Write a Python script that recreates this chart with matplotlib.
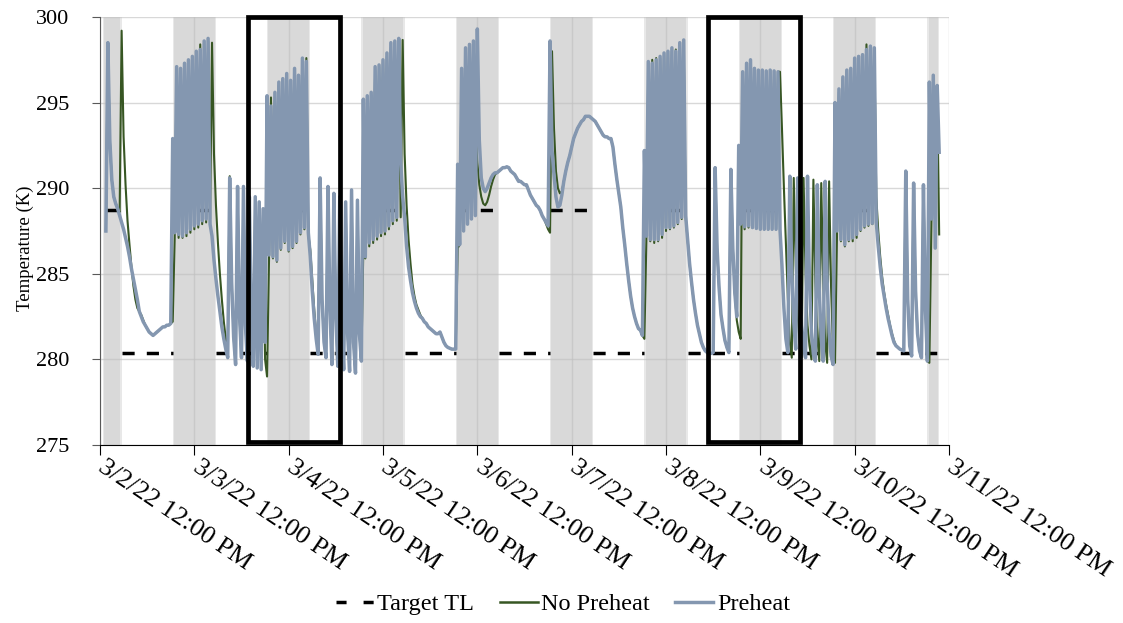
import numpy as np
import pandas as pd
import matplotlib
matplotlib.use("Agg")
import matplotlib.pyplot as plt
import matplotlib.dates as mdates
from matplotlib.lines import Line2D
from matplotlib.patches import Rectangle
from matplotlib.transforms import ScaledTranslation

plt.rcParams["font.family"] = ["Liberation Serif", "DejaVu Serif"]

nan = np.nan

# Zone temperature (K), one reading every 30 min, each list runs noon -> noon
preheat_mar02 = [nan, nan, nan, 287.5, 298.5, 292.8, 290.5, 289.5, 289.1, 288.8, 288.4, 288.0,
                 287.6, 287.1, 286.6, 286.0, 285.3, 284.7, 284.1, 283.5, 282.8, 282.5, 282.2, 282.0,
                 281.8, 281.6, 281.5, 281.4, 281.5, 281.6, 281.7, 281.8, 281.9, 281.9, 282.0, 282.0,
                 282.1, 292.9, 287.4, 297.1, 287.3, 297.0, 287.2, 297.3, 287.4, 297.5, 287.6, 297.7]
preheat_mar03 = [287.8, 298.0, 287.9, 298.1, 288.1, 298.6, 288.2, 298.75, 287.9, 287.2, 285.8, 284.7,
                 283.7, 282.8, 281.9, 281.2, 280.6, 280.1, 290.6, 284.5, 281.3, 279.7, 290.1, 282.5,
                 280.1, 290.1, 282.0, 279.9, 289.5, 282.3, 279.6, 289.5, 279.5, 289.2, 279.4, 288.8,
                 281.0, 295.4, 286.1, 294.8, 286.0, 295.6, 285.8, 296.2, 286.5, 296.4, 286.9, 296.7]
preheat_mar04 = [286.4, 296.3, 286.6, 297.0, 286.9, 296.6, 287.4, 297.6, 287.7, 297.4, 287.4, 286.0,
                 284.0, 282.4, 281.2, 280.3, 290.6, 283.5, 281.0, 280.1, 290.1, 283.0, 279.7, 289.7,
                 282.5, 279.6, 289.5, 282.0, 279.4, 289.2, 281.5, 279.3, 289.9, 281.0, 279.2, 289.3,
                 281.5, 279.9, 295.2, 286.0, 295.4, 286.8, 295.6, 287.0, 297.1, 287.2, 297.2, 287.4]
preheat_mar05 = [297.5, 287.5, 297.9, 287.8, 298.5, 288.1, 298.6, 288.3, 298.75, 291.5, 289.5, 288.3,
                 286.6, 285.4, 284.6, 283.9, 283.4, 283.0, 282.7, 282.5, 282.4, 282.2, 282.1, 281.9,
                 281.8, 281.7, 281.6, 281.5, 281.5, 281.6, 281.3, 281.0, 280.8, 280.7, 280.65, 280.6,
                 280.6, 280.6, 291.4, 286.7, 297.0, 287.5, 298.2, 287.9, 298.4, 288.2, 298.6, 288.4]
preheat_mar06 = [299.3, 292.8, 290.6, 290.0, 289.8, 290.0, 290.3, 290.6, 290.8, 290.9, 290.9, 291.0,
                 291.1, 291.2, 291.2, 291.25, 291.2, 291.0, 290.9, 290.8, 290.6, 290.4, 290.4, 290.3,
                 290.2, 290.2, 289.9, 289.6, 289.4, 289.2, 289.0, 288.9, 288.7, 288.4, 288.2, 288.0,
                 287.8, 298.6, 292.2, 290.8, 289.5, 288.9, 289.0, 289.6, 290.4, 291.0, 291.5, 291.9]
preheat_mar07 = [292.4, 292.9, 293.2, 293.5, 293.7, 293.9, 294.0, 294.2, 294.2, 294.2, 294.1, 294.0,
                 293.9, 293.7, 293.5, 293.3, 293.1, 293.0, 293.0, 292.9, 292.9, 292.4, 291.4, 290.5,
                 289.7, 288.9, 287.7, 286.7, 285.6, 284.6, 283.7, 283.0, 282.5, 282.1, 281.8, 281.7,
                 281.4, 292.2, 287.2, 297.4, 287.0, 297.3, 287.0, 297.5, 287.0, 297.7, 287.3, 297.9]
preheat_mar08 = [287.7, 298.0, 287.7, 298.2, 287.8, 298.0, 288.0, 298.5, 288.3, 298.66, 288.4, 287.0,
                 285.6, 284.5, 283.5, 282.7, 282.0, 281.5, 281.0, 280.7, 280.5, 280.4, 280.35, 280.35,
                 280.4, 291.2, 286.5, 284.2, 282.6, 281.8, 281.1, 280.7, 280.4, 291.1, 286.5, 283.9,
                 282.5, 292.5, 287.9, 296.8, 287.75, 297.3, 287.8, 297.5, 287.7, 297.0, 287.65, 296.9]
preheat_mar09 = [287.6, 296.9, 287.6, 296.85, 287.6, 296.9, 287.6, 296.85, 287.6, 296.8, 287.6, 285.5,
                 283.0, 281.2, 280.4, 290.7, 285.0, 282.2, 280.6, 290.6, 284.8, 282.0, 280.8, 280.1,
                 290.7, 284.5, 281.6, 280.3, 279.9, 290.2, 284.0, 281.2, 279.9, 290.4, 284.6, 281.6,
                 280.2, 279.7, 295.0, 287.5, 295.8, 287.0, 296.5, 286.7, 296.9, 287.0, 297.0, 287.1]
preheat_mar10 = [297.6, 287.3, 297.7, 287.6, 297.8, 287.8, 298.1, 287.9, 298.3, 287.95, 298.2, 288.0,
                 286.6, 285.4, 284.4, 283.7, 283.0, 282.4, 281.9, 281.4, 281.0, 280.8, 280.7, 280.6,
                 280.55, 280.5, 291.0, 283.5, 280.8, 280.2, 290.3, 284.0, 281.5, 280.5, 280.1, 290.2,
                 283.0, 279.9, 296.2, 288.2, 296.6, 286.5, 296.0, 292.1]

no_preheat_mar02 = [nan, nan, nan, 287.5, 298.5, 292.8, 290.5, 289.5, 289.1, 288.8, 288.6, 299.2,
                    293.0, 290.2, 288.1, 286.7, 285.4, 284.3, 283.5, 283.0, 282.8, 282.6, 282.3, 282.0,
                    281.8, 281.6, 281.5, 281.4, 281.5, 281.6, 281.7, 281.8, 281.9, 281.9, 282.0, 282.0,
                    282.1, 282.2, 287.1, 297.0, 287.1, 296.9, 287.1, 297.2, 287.2, 297.4, 287.4, 297.6]
no_preheat_mar03 = [287.6, 297.9, 287.7, 298.4, 287.9, 298.2, 288.0, 298.6, 288.2, 298.5, 292.0, 289.0,
                    286.8, 285.0, 283.5, 282.2, 281.2, 280.5, 290.7, 284.5, 281.3, 279.7, 290.1, 282.5,
                    280.1, 290.1, 282.0, 279.9, 289.5, 282.3, 279.6, 289.5, 279.5, 289.2, 279.4, 288.8,
                    280.0, 279.0, 285.8, 295.3, 285.9, 294.7, 285.7, 296.0, 286.4, 296.3, 286.8, 296.6]
no_preheat_mar04 = [286.3, 296.2, 286.5, 296.9, 286.8, 296.5, 287.3, 297.5, 287.6, 297.6, 287.3, 286.4,
                    284.6, 282.9, 281.5, 280.4, 290.6, 283.5, 281.0, 280.1, 290.1, 283.0, 279.7, 289.7,
                    282.5, 279.6, 289.5, 282.0, 279.4, 289.2, 281.5, 279.3, 289.9, 281.0, 279.2, 289.3,
                    281.5, 279.9, 286.6, 285.9, 295.2, 286.6, 295.4, 286.8, 296.9, 287.0, 297.1, 287.2]
no_preheat_mar05 = [297.4, 287.3, 297.7, 287.6, 298.2, 287.9, 298.5, 288.1, 298.6, 288.3, 298.66, 292.0,
                    289.0, 287.0, 285.6, 284.4, 283.7, 283.2, 282.9, 282.6, 282.4, 282.2, 282.1, 281.9,
                    281.8, 281.7, 281.6, 281.5, 281.5, 281.6, 281.3, 281.0, 280.8, 280.7, 280.65, 280.6,
                    280.6, 280.6, 286.5, 286.7, 296.8, 287.5, 298.0, 287.9, 298.4, 288.2, 298.5, 293.5]
no_preheat_mar06 = [291.5, 290.2, 289.5, 289.1, 289.0, 289.2, 289.6, 290.1, 290.5, 290.8, 290.9, 291.0,
                    291.1, 291.2, 291.2, 291.25, 291.2, 291.0, 290.9, 290.8, 290.6, 290.4, 290.4, 290.3,
                    290.2, 290.2, 289.9, 289.6, 289.4, 289.2, 289.0, 288.9, 288.7, 288.4, 288.2, 287.9,
                    287.6, 287.4, 298.0, 293.5, 291.0, 290.0, 289.7, 289.8, 290.4, 291.0, 291.5, 291.9]
no_preheat_mar07 = [292.4, 292.9, 293.2, 293.5, 293.7, 293.9, 294.0, 294.2, 294.2, 294.2, 294.1, 294.0,
                    293.9, 293.7, 293.5, 293.3, 293.1, 293.0, 293.0, 292.9, 292.9, 292.4, 291.4, 290.5,
                    289.7, 288.9, 287.7, 286.7, 285.6, 284.6, 283.7, 283.0, 282.5, 282.1, 281.8, 281.7,
                    281.4, 281.2, 286.9, 297.2, 286.9, 297.5, 286.8, 297.6, 286.9, 297.6, 287.1, 297.8]
no_preheat_mar08 = [287.5, 297.9, 287.6, 298.0, 287.7, 298.1, 287.9, 298.4, 288.2, 298.5, 288.3, 287.0,
                    285.6, 284.5, 283.5, 282.7, 282.0, 281.5, 281.0, 280.7, 280.5, 280.4, 280.35, 280.35,
                    280.4, 291.2, 286.5, 284.2, 282.6, 281.8, 281.1, 280.7, 280.4, 291.1, 286.5, 283.9,
                    282.3, 281.6, 281.2, 296.8, 287.6, 297.3, 287.7, 297.5, 287.7, 297.0, 287.65, 296.9]
no_preheat_mar09 = [287.6, 296.9, 287.6, 296.85, 287.6, 296.9, 287.6, 296.85, 287.6, 296.8, 296.8, 293.5,
                    290.0, 286.8, 283.6, 281.0, 280.1, 290.6, 285.5, 282.6, 281.0, 280.1, 290.6, 285.0,
                    282.0, 280.8, 280.0, 290.5, 284.5, 281.3, 279.9, 290.3, 284.5, 281.0, 279.8, 290.4,
                    284.2, 280.5, 279.8, 287.2, 295.6, 286.9, 296.4, 286.6, 296.8, 286.9, 297.0, 286.9]
no_preheat_mar10 = [297.5, 287.1, 297.7, 287.5, 297.8, 287.7, 298.4, 287.8, 298.2, 287.9, 298.1, 289.5,
                    287.5, 286.0, 284.8, 283.9, 283.2, 282.6, 282.0, 281.5, 281.1, 280.8, 280.7, 280.6,
                    280.55, 280.5, 291.0, 283.5, 280.8, 280.2, 290.3, 284.0, 281.5, 280.5, 280.1, 290.2,
                    283.0, 279.9, 279.8, 287.5, 296.4, 287.8, 295.7, 287.3]

# occupied hours (shaded)
occupied_start = ["2022-03-02 12:45", "2022-03-03 06:30", "2022-03-04 06:30", "2022-03-05 06:30",
                  "2022-03-06 06:30", "2022-03-07 06:30", "2022-03-08 06:30", "2022-03-09 06:30",
                  "2022-03-10 06:30", "2022-03-11 06:30"]
occupied_end = ["2022-03-02 17:30", "2022-03-03 17:30", "2022-03-04 17:30", "2022-03-05 17:30",
                "2022-03-06 17:30", "2022-03-07 17:30", "2022-03-08 17:30", "2022-03-09 17:30",
                "2022-03-10 17:30", "2022-03-11 09:30"]

# target temperature schedule
target_start = ["2022-03-02 13:30", "2022-03-02 17:30", "2022-03-03 06:30", "2022-03-03 17:30",
                "2022-03-04 06:30", "2022-03-04 17:30", "2022-03-05 06:30", "2022-03-05 17:30",
                "2022-03-06 06:30", "2022-03-06 17:30", "2022-03-07 06:30", "2022-03-07 17:30",
                "2022-03-08 06:30", "2022-03-08 17:30", "2022-03-09 06:30", "2022-03-09 17:30",
                "2022-03-10 06:30", "2022-03-10 17:30"]
target_end = target_start[1:] + ["2022-03-11 09:30"]
target_value = [288.7, 280.4] * 9

# windows boxed for closer look
highlight_start = ["2022-03-04 01:45", "2022-03-08 22:45"]
highlight_end = ["2022-03-05 01:00", "2022-03-09 22:00"]

preheat = np.concatenate([preheat_mar02, preheat_mar03, preheat_mar04, preheat_mar05, preheat_mar06,
                          preheat_mar07, preheat_mar08, preheat_mar09, preheat_mar10])
no_preheat = np.concatenate([no_preheat_mar02, no_preheat_mar03, no_preheat_mar04, no_preheat_mar05,
                             no_preheat_mar06, no_preheat_mar07, no_preheat_mar08, no_preheat_mar09,
                             no_preheat_mar10])
times = pd.date_range("2022-03-02 12:00", periods=len(preheat), freq="30min")
tick_days = pd.date_range("2022-03-02 12:00", "2022-03-11 12:00", freq="D")

green = "#375623"
blue = "#8497b0"

fig = plt.figure(figsize=(11.23, 6.23), dpi=100)
ax = fig.add_axes([100 / 1123, 178 / 623, 849 / 1123, 428 / 623])

edge = pd.Timedelta(minutes=20)
for s, e in zip(occupied_start, occupied_end):
    s, e = pd.Timestamp(s), pd.Timestamp(e)
    ax.axvspan(s, e, color="#e8e8e8", lw=0, zorder=0)
    ax.axvspan(s + edge, e - edge, color="#d9d9d9", lw=0, zorder=0)

for s, e, v in zip(target_start, target_end, target_value):
    ax.plot([pd.Timestamp(s), pd.Timestamp(e)], [v, v], color="black", lw=2.5,
            dashes=(3.5, 3.5), zorder=2)

ax.plot(times, no_preheat, color=green, lw=1.5, zorder=3)
ax.plot(times, preheat, color=blue, lw=2.5, zorder=4)

for s, e in zip(highlight_start, highlight_end):
    x0 = mdates.date2num(pd.Timestamp(s))
    x1 = mdates.date2num(pd.Timestamp(e))
    ax.add_patch(Rectangle((x0, 275.15), x1 - x0, 300.0 - 275.15, fill=False,
                           ec="black", lw=3.4, zorder=5, clip_on=False))

ax.set_xlim(tick_days[0], tick_days[-1])
ax.set_ylim(275, 300)
ax.set_yticks(range(275, 301, 5))
ax.set_xticks(tick_days)
ax.set_xticklabels([f"{d.month}/{d.day}/{d:%y} {d:%I:%M %p}" for d in tick_days])
ax.grid(True, color="#bfbfbf", alpha=0.6, lw=1.0)

for side in ["top", "right"]:
    ax.spines[side].set_visible(False)
ax.spines["left"].set_color("#595959")
ax.spines["bottom"].set_color("black")

ax.tick_params(axis="y", labelsize=16, length=6, pad=16, color="#595959")
ax.tick_params(axis="x", labelsize=19, length=7, pad=1)
shift = ScaledTranslation(0.07, 0, fig.dpi_scale_trans)
for lab in ax.get_xticklabels():
    lab.set_rotation(-34)
    lab.set_ha("left")
    lab.set_va("top")
    lab.set_rotation_mode("anchor")
    lab.set_transform(lab.get_transform() + shift)

ax.set_ylabel("Temperature (K)", fontsize=13.5)
ax.yaxis.set_label_coords(-0.078, 0.46)

handles = [Line2D([], [], color="black", lw=2.5, dashes=(2.9, 4.9)),
           Line2D([], [], color=green, lw=1.8),
           Line2D([], [], color=blue, lw=2.5)]
fig.legend(handles, ["Target TL", "No Preheat", "Preheat"], loc="center",
           bbox_to_anchor=(563 / 1123, 1 - 604 / 623), ncol=3, frameon=False, fontsize=17.5,
           handlelength=1.55, handletextpad=0.15, columnspacing=1.05)

fig.savefig("out.png", dpi=100)
